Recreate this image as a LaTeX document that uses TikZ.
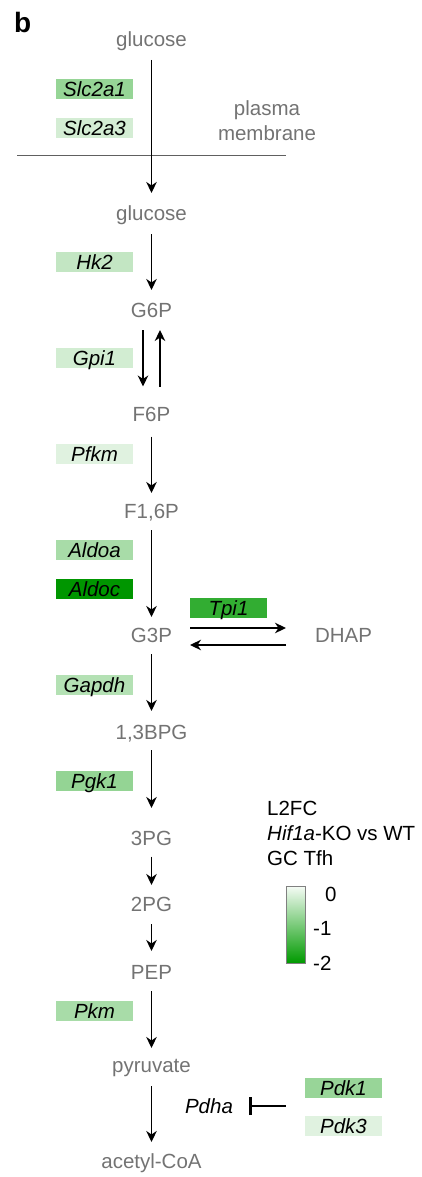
\documentclass[tikz,border=0pt]{standalone}
\usepackage{fontspec}
\setmainfont{Liberation Sans}
\usetikzlibrary{arrows.meta,calc}
\definecolor{metgray}{HTML}{737373}
\definecolor{membgray}{HTML}{606060}
\definecolor{cSlcA}{HTML}{96D596}
\definecolor{cSlcB}{HTML}{D4EDD4}
\definecolor{cHk}{HTML}{C3E6C3}
\definecolor{cGpi}{HTML}{D2EDD2}
\definecolor{cPfkm}{HTML}{E0F2E0}
\definecolor{cAldoa}{HTML}{A8DCA8}
\definecolor{cAldoc}{HTML}{009600}
\definecolor{cTpi}{HTML}{32AD32}
\definecolor{cGapdh}{HTML}{B4E1B4}
\definecolor{cPgk}{HTML}{94D494}
\definecolor{cPkm}{HTML}{A8DCA8}
\definecolor{cPdkA}{HTML}{98D598}
\definecolor{cPdkB}{HTML}{E0F2E0}
\definecolor{barTop}{HTML}{F6FCF6}
\definecolor{barBot}{HTML}{009A00}
\newcommand{\myfont}{\fontsize{20.5}{25}\selectfont}
\begin{document}
\begin{tikzpicture}[x=1pt,y=-1pt,
  met/.style={font=\myfont, text=metgray, inner sep=0pt, anchor=base},
  gene/.style={font=\myfont\itshape, minimum width=77pt, minimum height=20pt,
    inner sep=0pt, text height=15pt, text depth=0pt},
  leg/.style={font=\myfont, text=black, inner sep=0pt, anchor=base west},
  arr/.style={line width=1.4pt, -{Stealth[length=11pt,width=10.5pt,inset=3.5pt]}},
  inh/.style={line width=1.3pt, -{Bar[width=18pt,line width=3.2pt]}},
]
\useasboundingbox (0,0) rectangle (422,1177);
% panel label
\node[font=\fontsize{28}{30}\selectfont\bfseries, inner sep=0pt, anchor=base west] (lbl) at (14,33) {b};
% metabolites
\node[met] (glc1) at (151.5,47) {glucose};
\node[met] (glc2) at (151.5,220) {glucose};
\node[met] (g6p) at (151.5,317) {G6P};
\node[met] (f6p) at (151.5,421.5) {F6P};
\node[met] (f16p) at (151.5,518) {F1,6P};
\node[met] (g3p) at (151.5,642.5) {G3P};
\node[met] (dhap) at (343.5,642.5) {DHAP};
\node[met] (bpg) at (151.5,739) {1,3BPG};
\node[met] (pg3) at (151.5,845) {3PG};
\node[met] (pg2) at (151.5,911) {2PG};
\node[met] (pep) at (151.5,979) {PEP};
\node[met] (pyr) at (151.5,1072) {pyruvate};
\node[met] (acoa) at (151.5,1168) {acetyl-CoA};
\node[met, align=center] (pm) at (267,141) {plasma\\membrane};
% membrane
\draw[membgray, line width=1pt] (17,156) -- (286,156);
% genes
\node[gene, fill=cSlcA] (slc1) at (94.5,89) {Slc2a1};
\node[gene, fill=cSlcB] (slc3) at (94.5,128) {Slc2a3};
\node[gene, fill=cHk] (hk2) at (94.5,262) {Hk2};
\node[gene, fill=cGpi] (gpi1) at (94.5,357.7) {Gpi1};
\node[gene, fill=cPfkm] (pfkm) at (94.5,453.5) {Pfkm};
\node[gene, fill=cAldoa] (aldoa) at (94.5,550) {Aldoa};
\node[gene, fill=cAldoc] (aldoc) at (94.5,589) {Aldoc};
\node[gene, fill=cTpi] (tpi1) at (228.5,608) {Tpi1};
\node[gene, fill=cGapdh] (gapdh) at (94.5,685) {Gapdh};
\node[gene, fill=cPgk] (pgk1) at (94.5,781) {Pgk1};
\node[gene, fill=cPkm] (pkm) at (94.5,1011) {Pkm};
\node[gene, fill=cPdkA] (pdk1) at (343.5,1088) {Pdk1};
\node[gene, fill=cPdkB] (pdk3) at (343.5,1126) {Pdk3};
\node[font=\myfont\itshape, inner sep=0pt, anchor=base] (pdha) at (209,1113) {Pdha};
% arrows
\draw[arr] ([yshift=-13pt]glc1.base) -- ([yshift=27pt]glc2.base);
\draw[arr] ([yshift=-14pt]glc2.base) -- ([yshift=27pt]g6p.base);
\draw[arr] ([xshift=-8.5pt,yshift=-13pt]g6p.base) -- ([xshift=-8.5pt,yshift=35pt]f6p.base);
\draw[arr] ([xshift=8.5pt,yshift=35pt]f6p.base) -- ([xshift=8.5pt,yshift=-13pt]g6p.base);
\draw[arr] ([yshift=-15pt]f6p.base) -- ([yshift=25pt]f16p.base);
\draw[arr] ([yshift=-12pt]f16p.base) -- ([yshift=25.5pt]g3p.base);
\draw[arr] ([yshift=-11.5pt]g3p.base) -- ([yshift=28pt]bpg.base);
\draw[arr] ([yshift=-11pt]bpg.base) -- ([yshift=37pt]pg3.base);
\draw[arr] ([yshift=-11.5pt]pg3.base) -- ([yshift=26pt]pg2.base);
\draw[arr] ([yshift=-13pt]pg2.base) -- ([yshift=28pt]pep.base);
\draw[arr] ([yshift=-12pt]pep.base) -- ([yshift=24pt]pyr.base);
\draw[arr] ([yshift=-14pt]pyr.base) -- ([yshift=26pt]acoa.base);
\draw[arr] ([xshift=38.5pt,yshift=14.5pt]g3p.base) -- ([xshift=-57.5pt,yshift=14.5pt]dhap.base);
\draw[arr] ([xshift=-57.5pt,yshift=-2.5pt]dhap.base) -- ([xshift=38.5pt,yshift=-2.5pt]g3p.base);
\draw[inh] ([xshift=-19pt,yshift=-18pt]pdk1.west) -- ([xshift=40pt,yshift=7pt]pdha.base);
% legend
\node[leg] (l1) at (267,815) {L2FC};
\node[leg] (l2) at (267,840) {\textit{Hif1a}-KO vs WT};
\node[leg] (l3) at (267,865.5) {GC Tfh};
\shade[top color=barTop, bottom color=barBot] (286,886) rectangle (305,963);
\draw[gray, line width=0.8pt] (286,886) rectangle (305,963);
\node[leg] (t0) at (325,901.5) {0};
\node[leg] (t1) at (313,935.5) {-1};
\node[leg] (t2) at (313,970) {-2};
\end{tikzpicture}
\end{document}
